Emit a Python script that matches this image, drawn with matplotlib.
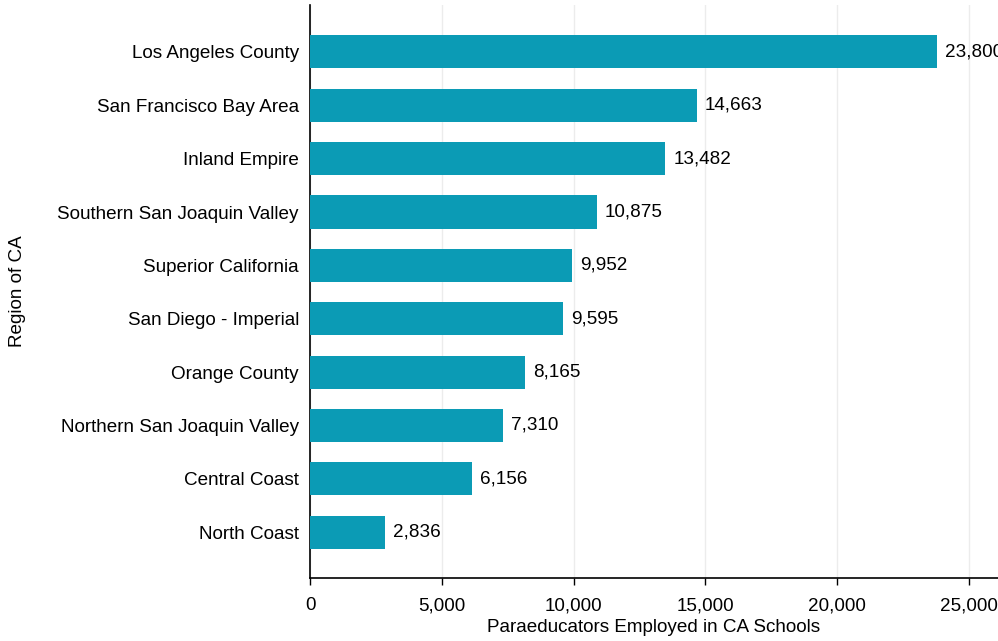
import matplotlib.pyplot as plt
from matplotlib.ticker import FuncFormatter

plt.rcParams['font.family'] = ['Liberation Sans', 'DejaVu Sans']

regions = ["Los Angeles County", "San Francisco Bay Area", "Inland Empire",
           "Southern San Joaquin Valley", "Superior California", "San Diego - Imperial",
           "Orange County", "Northern San Joaquin Valley", "Central Coast", "North Coast"]
paraeducators = [23800, 14663, 13482, 10875, 9952, 9595, 8165, 7310, 6156, 2836]
x_ticks = [0, 5000, 10000, 15000, 20000, 25000]

fs = 13.6
fig = plt.figure(figsize=(9.98, 6.41), dpi=100)
ax = fig.add_axes([310/998, 1 - 578/641, 1 - 310/998, (578 - 5)/641])

ypos = list(range(len(regions)))
ax.barh(ypos, paraeducators, height=0.62, color='#0b9bb5', zorder=3)
for y, v in zip(ypos, paraeducators):
    ax.text(v + 300, y, f"{v:,}", va='center', ha='left', fontsize=fs, color='black', clip_on=False)

ax.set_yticks(ypos)
ax.set_yticklabels(regions, fontsize=fs)
ax.set_ylim(len(regions) - 1 + 0.86, -0.88)
ax.set_xlim(0, 26100)
ax.set_xticks(x_ticks)
ax.xaxis.set_major_formatter(FuncFormatter(lambda v, p: f"{int(v):,}"))
ax.tick_params(axis='x', labelsize=fs, length=5, width=1, color='black', pad=9)
ax.tick_params(axis='y', length=0, pad=8)
ax.grid(axis='x', color='#ececec', linewidth=1, zorder=0)
ax.set_axisbelow(True)

for s in ['top', 'right']:
    ax.spines[s].set_visible(False)
for s in ['left', 'bottom']:
    ax.spines[s].set_color('black')
    ax.spines[s].set_linewidth(1.2)

ax.set_xlabel("Paraeducators Employed in CA Schools", fontsize=fs, va='center')
ax.set_ylabel("Region of CA", fontsize=fs, va='center')
ax.xaxis.set_label_coords(0.5, (578 - 627) / 573)
ax.yaxis.set_label_coords((18 - 310) / 688, 0.5)

fig.savefig("out.png", dpi=100)
